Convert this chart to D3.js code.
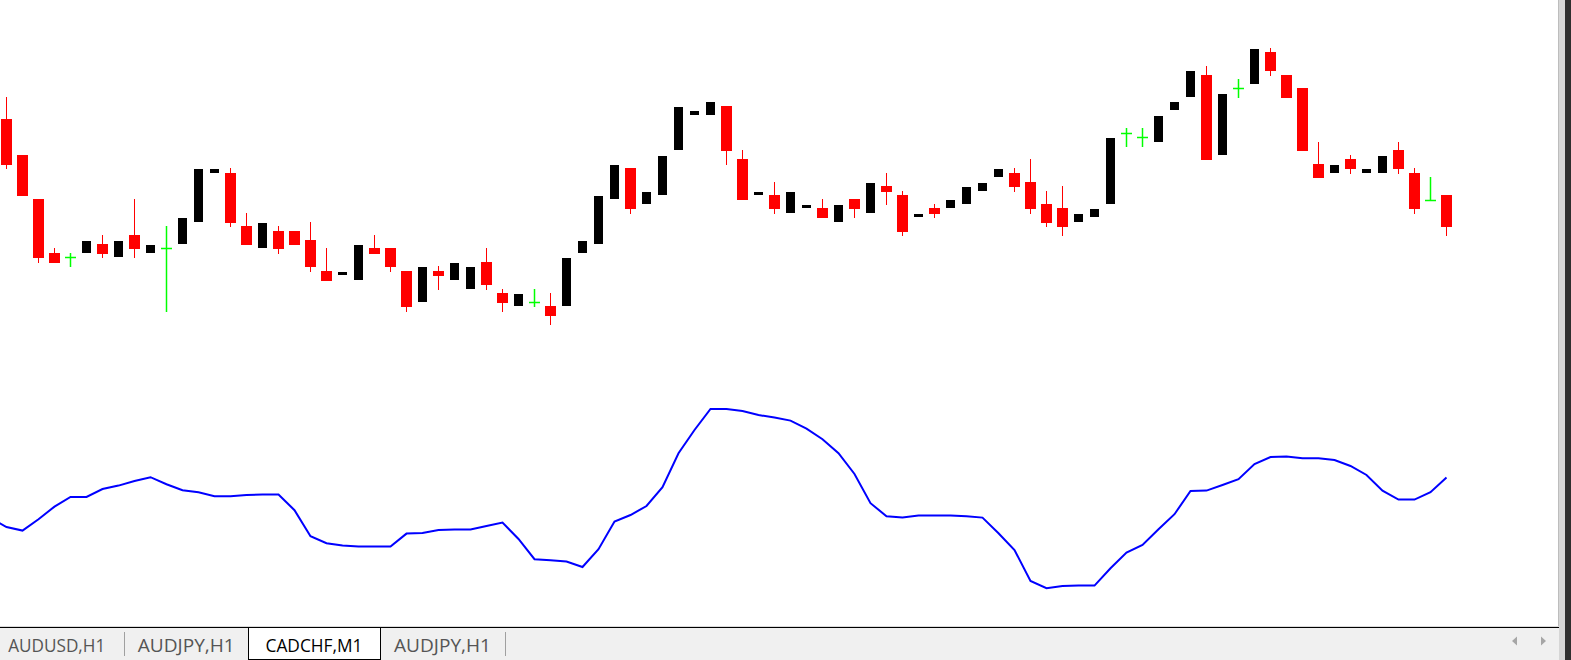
<!DOCTYPE html>
<html>
<head>
<meta charset="utf-8">
<script src="https://cdn.jsdelivr.net/npm/d3@7"></script>
<style>
  html, body { margin: 0; padding: 0; background: #fff; overflow: hidden; }
  svg { display: block; }
</style>
</head>
<body>
<script>
// CADCHF M1 bars, oldest first (prices)
var open = [
  0.65681, 0.65645, 0.65601, 0.65547, 0.65543, 0.65547, 0.65556, 0.65543, 0.65565, 0.65547,
  0.65552, 0.65556, 0.65578, 0.65627, 0.65627, 0.65574, 0.65552, 0.65569, 0.65569, 0.65560,
  0.65529, 0.65525, 0.65520, 0.65552, 0.65552, 0.65529, 0.65498, 0.65529, 0.65520, 0.65511,
  0.65538, 0.65507, 0.65494, 0.65498, 0.65494, 0.65494, 0.65547, 0.65556, 0.65601, 0.65632,
  0.65596, 0.65605, 0.65650, 0.65685, 0.65685, 0.65694, 0.65641, 0.65605, 0.65605, 0.65587,
  0.65592, 0.65592, 0.65578, 0.65601, 0.65587, 0.65614, 0.65605, 0.65583, 0.65592, 0.65592,
  0.65596, 0.65609, 0.65623, 0.65627, 0.65618, 0.65596, 0.65592, 0.65578, 0.65583, 0.65596,
  0.65667, 0.65663, 0.65658, 0.65690, 0.65703, 0.65725, 0.65645, 0.65712, 0.65716, 0.65748,
  0.65725, 0.65712, 0.65636, 0.65627, 0.65641, 0.65627, 0.65627, 0.65650, 0.65627, 0.65600,
  0.65605
];
var high = [
  0.65703, 0.65645, 0.65601, 0.65552, 0.65547, 0.65559, 0.65565, 0.65559, 0.65601, 0.65555,
  0.65574, 0.65582, 0.65631, 0.65631, 0.65632, 0.65587, 0.65577, 0.65574, 0.65569, 0.65578,
  0.65552, 0.65528, 0.65555, 0.65565, 0.65552, 0.65529, 0.65533, 0.65534, 0.65537, 0.65533,
  0.65552, 0.65511, 0.65506, 0.65511, 0.65507, 0.65542, 0.65559, 0.65604, 0.65635, 0.65632,
  0.65608, 0.65644, 0.65693, 0.65689, 0.65698, 0.65694, 0.65650, 0.65608, 0.65618, 0.65608,
  0.65595, 0.65601, 0.65595, 0.65601, 0.65617, 0.65627, 0.65609, 0.65586, 0.65596, 0.65600,
  0.65613, 0.65617, 0.65631, 0.65632, 0.65641, 0.65609, 0.65614, 0.65586, 0.65591, 0.65662,
  0.65672, 0.65672, 0.65684, 0.65698, 0.65729, 0.65734, 0.65706, 0.65721, 0.65751, 0.65752,
  0.65725, 0.65712, 0.65658, 0.65635, 0.65645, 0.65631, 0.65644, 0.65658, 0.65632, 0.65623,
  0.65605
];
var low = [
  0.65631, 0.65604, 0.65537, 0.65537, 0.65533, 0.65547, 0.65542, 0.65543, 0.65542, 0.65547,
  0.65488, 0.65556, 0.65578, 0.65627, 0.65573, 0.65555, 0.65552, 0.65546, 0.65555, 0.65528,
  0.65519, 0.65525, 0.65520, 0.65546, 0.65528, 0.65488, 0.65498, 0.65510, 0.65520, 0.65511,
  0.65510, 0.65488, 0.65494, 0.65493, 0.65475, 0.65494, 0.65547, 0.65556, 0.65601, 0.65586,
  0.65596, 0.65605, 0.65650, 0.65685, 0.65685, 0.65635, 0.65600, 0.65605, 0.65586, 0.65587,
  0.65592, 0.65582, 0.65578, 0.65582, 0.65587, 0.65595, 0.65564, 0.65583, 0.65582, 0.65592,
  0.65596, 0.65609, 0.65623, 0.65608, 0.65586, 0.65573, 0.65564, 0.65578, 0.65583, 0.65596,
  0.65653, 0.65653, 0.65658, 0.65690, 0.65703, 0.65640, 0.65645, 0.65702, 0.65716, 0.65724,
  0.65702, 0.65649, 0.65622, 0.65627, 0.65626, 0.65627, 0.65627, 0.65626, 0.65586, 0.65600,
  0.65564
];
var close = [
  0.65635, 0.65604, 0.65542, 0.65537, 0.65543, 0.65559, 0.65546, 0.65559, 0.65551, 0.65555,
  0.65552, 0.65582, 0.65631, 0.65631, 0.65577, 0.65555, 0.65577, 0.65551, 0.65555, 0.65533,
  0.65519, 0.65528, 0.65555, 0.65546, 0.65533, 0.65493, 0.65533, 0.65524, 0.65537, 0.65533,
  0.65515, 0.65497, 0.65506, 0.65498, 0.65484, 0.65542, 0.65559, 0.65604, 0.65635, 0.65591,
  0.65608, 0.65644, 0.65693, 0.65689, 0.65698, 0.65649, 0.65600, 0.65608, 0.65591, 0.65608,
  0.65595, 0.65582, 0.65595, 0.65591, 0.65617, 0.65608, 0.65568, 0.65586, 0.65586, 0.65600,
  0.65613, 0.65617, 0.65631, 0.65613, 0.65591, 0.65577, 0.65573, 0.65586, 0.65591, 0.65662,
  0.65667, 0.65663, 0.65684, 0.65698, 0.65729, 0.65640, 0.65706, 0.65712, 0.65751, 0.65729,
  0.65702, 0.65649, 0.65622, 0.65635, 0.65631, 0.65631, 0.65644, 0.65631, 0.65591, 0.65600,
  0.65573
];

// oscillator in the lower part; first value belongs to the bar just left of the window
var indicator = [
  41, 36.5, 34.7, 40.4, 46.7, 51.5, 51.5, 55.5, 57.2, 59.5, 61.4,
  57.9, 54.9, 53.9, 51.9, 51.9, 52.5, 52.7, 52.7, 44.9, 31.9,
  28.4, 27.2, 26.7, 26.7, 26.7, 33.2, 33.5, 35, 35.2, 35.2,
  37, 38.7, 30.5, 20.4, 19.9, 19.2, 16.5, 25.4, 39.2, 42.5,
  47, 56.4, 73.4, 85, 95.5, 95.5, 94.5, 92.5, 91.2, 89.7,
  85.7, 80.4, 73.4, 63, 48.4, 41.9, 41.2, 42.2, 42.2, 42.2,
  41.9, 41.2, 33.4, 25, 9.5, 5.9, 7, 7.2, 7.2, 15.9,
  23.7, 27.5, 35.4, 42.9, 54.5, 54.7, 57.5, 60.4, 68, 71.5,
  71.7, 70.9, 70.9, 70, 67, 62.5, 54.7, 50.2, 50.2, 53.9,
  61.2
];

var tabs = ["AUDUSD,H1", "AUDJPY,H1", "CADCHF,M1", "AUDJPY,H1"];
var activeTab = 2;

var W = 1571, H = 660;
var chartW = 1558, chartH = 626;

var svg = d3.select("body").append("svg")
  .attr("width", W)
  .attr("height", H);

svg.append("rect").attr("width", W).attr("height", H).attr("fill", "#fff");

svg.append("clipPath").attr("id", "plot")
  .append("rect").attr("width", chartW).attr("height", chartH);

var plot = svg.append("g").attr("clip-path", "url(#plot)");

var bars = d3.range(open.length).map(function(i) {
  return { i: i, o: open[i], h: high[i], l: low[i], c: close[i] };
});

// one bar every 16 px
var x = d3.scaleLinear().domain([0, bars.length - 1]).range([6.5, 1446.5]);
var y = d3.scaleLinear().domain([0.65800, 0.65200]).range([0, 600]);
var yInd = d3.scaleLinear().domain([0, 100]).range([600, 400]);

function py(v) { return Math.round(y(v)); }

function kind(d) {
  if (d.c > d.o) return "bull";
  if (d.c < d.o) return "bear";
  return "doji";
}
var colour = { bull: "#000000", bear: "#ff0000", doji: "#00ff00" };

var candle = plot.selectAll(".candle")
  .data(bars)
  .enter()
  .append("g")
  .attr("class", "candle");

// wicks
candle.append("line")
  .attr("x1", function(d) { return x(d.i); })
  .attr("x2", function(d) { return x(d.i); })
  .attr("y1", function(d) { return py(d.h); })
  .attr("y2", function(d) { return py(d.l); })
  .attr("stroke", function(d) { return colour[kind(d)]; })
  .attr("stroke-width", function(d) { return kind(d) == "doji" ? 1.5 : 1; })
  .attr("shape-rendering", function(d) { return kind(d) == "doji" ? "auto" : "crispEdges"; });

// bodies
candle.filter(function(d) { return kind(d) != "doji"; })
  .append("rect")
  .attr("shape-rendering", "crispEdges")
  .attr("x", function(d) { return kind(d) == "bull" ? x(d.i) - 4.5 : x(d.i) - 5.5; })
  .attr("width", function(d) { return kind(d) == "bull" ? 9 : 11; })
  .attr("y", function(d) { return py(Math.max(d.o, d.c)); })
  .attr("height", function(d) { return py(Math.min(d.o, d.c)) - py(Math.max(d.o, d.c)); })
  .attr("fill", function(d) { return colour[kind(d)]; });

// doji crossbars
candle.filter(function(d) { return kind(d) == "doji"; })
  .append("line")
  .attr("x1", function(d) { return x(d.i) - 5.5; })
  .attr("x2", function(d) { return x(d.i) + 5.5; })
  .attr("y1", function(d) { return py(d.o) + 0.5; })
  .attr("y2", function(d) { return py(d.o) + 0.5; })
  .attr("stroke", colour.doji)
  .attr("stroke-width", 1.5);

var line = d3.line()
  .x(function(d, k) { return x(k - 1); })
  .y(function(d) { return yInd(d); });

plot.append("path")
  .datum(indicator)
  .attr("d", line)
  .attr("fill", "none")
  .attr("stroke", "#0000ff")
  .attr("stroke-width", 2);

// window frame
var frame = svg.append("g").attr("shape-rendering", "crispEdges");
frame.append("line")
  .attr("x1", chartW + 0.5).attr("x2", chartW + 0.5)
  .attr("y1", 0).attr("y2", 628)
  .attr("stroke", "#bdbdbd");
frame.append("rect").attr("x", 1559).attr("y", 0).attr("width", 6).attr("height", H).attr("fill", "#d6d6d6");
frame.append("rect").attr("x", 1565).attr("y", 0).attr("width", 6).attr("height", H).attr("fill", "#2f2f2f");

// tab bar
frame.append("rect").attr("x", 0).attr("y", 628).attr("width", 1559).attr("height", 32).attr("fill", "#f0f0f0");
frame.append("line")
  .attr("x1", 0).attr("x2", 1559)
  .attr("y1", 626.5).attr("y2", 626.5)
  .attr("stroke", "#dadada");
frame.append("line")
  .attr("x1", 0).attr("x2", 1559)
  .attr("y1", 627.5).attr("y2", 627.5)
  .attr("stroke", "#000");

var tabEdges = [-11, 124.5, 248, 380, 505];

frame.append("rect")
  .attr("x", tabEdges[activeTab] + 0.5)
  .attr("y", 627.5)
  .attr("width", tabEdges[activeTab + 1] - tabEdges[activeTab])
  .attr("height", 32)
  .attr("fill", "#fff")
  .attr("stroke", "#000");

[tabEdges[1], tabEdges[4]].forEach(function(e) {
  frame.append("line")
    .attr("x1", Math.floor(e) + 0.5).attr("x2", Math.floor(e) + 0.5)
    .attr("y1", 632).attr("y2", 656)
    .attr("stroke", "#a0a0a0");
});

svg.selectAll(".tab")
  .data(tabs)
  .enter()
  .append("text")
  .attr("class", "tab")
  .attr("x", function(d, k) { return (tabEdges[k] + tabEdges[k + 1]) / 2; })
  .attr("y", 651.5)
  .attr("text-anchor", "middle")
  .attr("textLength", 97)
  .attr("lengthAdjust", "spacingAndGlyphs")
  .style("font-family", "'Open Sans', 'Noto Sans', sans-serif")
  .style("font-size", "18px")
  .style("fill", function(d, k) { return k == activeTab ? "#000" : "#555"; })
  .text(function(d) { return d; });

// scroll arrows
svg.append("path").attr("d", "M1517,636.5 L1512,641 L1517,645.5 Z").attr("fill", "#a6a6a6");
svg.append("path").attr("d", "M1541,636.5 L1546,641 L1541,645.5 Z").attr("fill", "#a6a6a6");
</script>
</body>
</html>
